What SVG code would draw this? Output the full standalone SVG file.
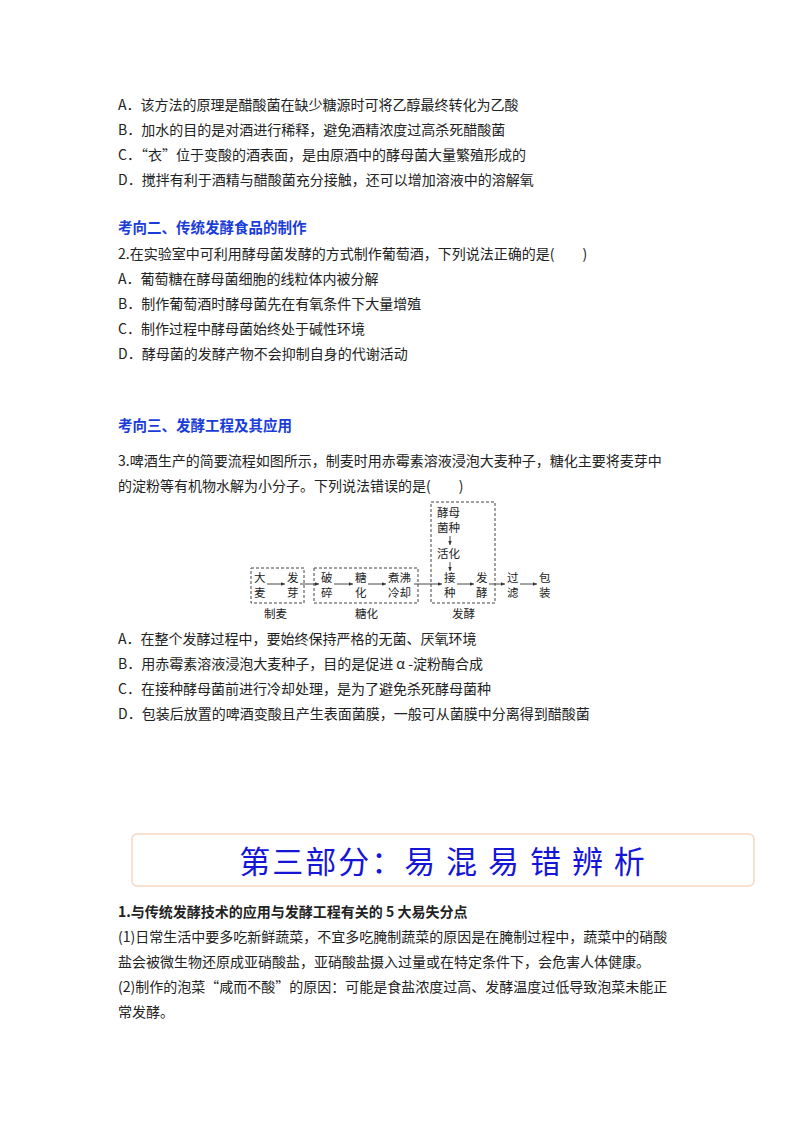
<svg xmlns="http://www.w3.org/2000/svg" width="800" height="1132" viewBox="0 0 800 1132">
<defs>
<style>
text{font-family:"Noto Sans CJK SC","Liberation Serif",serif;fill:#222}
.t{font-size:14px}
.h{font-size:14.5px;font-weight:bold;fill:#1a3cd8}
.d{font-size:11.5px}
.box{fill:none;stroke:#444;stroke-width:1;stroke-dasharray:3,2}
.c{stroke:#333;stroke-width:0.9;fill:none;marker-end:url(#a)}
</style>
<marker id="a" markerWidth="6" markerHeight="6" refX="5" refY="3" orient="auto"><path d="M0,0.8 L5,3 L0,5.2z" fill="#333"/></marker>
</defs>
<rect width="800" height="1132" fill="#fff"/>
<g id="text-top" class="t">
<text x="118" y="110">A．该方法的原理是醋酸菌在缺少糖源时可将乙醇最终转化为乙酸</text>
<text x="118" y="135">B．加水的目的是对酒进行稀释，避免酒精浓度过高杀死醋酸菌</text>
<text x="118" y="160">C．“衣”位于变酸的酒表面，是由原酒中的酵母菌大量繁殖形成的</text>
<text x="118" y="185">D．搅拌有利于酒精与醋酸菌充分接触，还可以增加溶液中的溶解氧</text>
<text x="118" y="233" class="h">考向二、传统发酵食品的制作</text>
<text x="118" y="259">2.在实验室中可利用酵母菌发酵的方式制作葡萄酒，下列说法正确的是(　　)</text>
<text x="118" y="284">A．葡萄糖在酵母菌细胞的线粒体内被分解</text>
<text x="118" y="309">B．制作葡萄酒时酵母菌先在有氧条件下大量增殖</text>
<text x="118" y="334">C．制作过程中酵母菌始终处于碱性环境</text>
<text x="118" y="359">D．酵母菌的发酵产物不会抑制自身的代谢活动</text>
<text x="118" y="431" class="h">考向三、发酵工程及其应用</text>
<text x="118" y="466">3.啤酒生产的简要流程如图所示，制麦时用赤霉素溶液浸泡大麦种子，糖化主要将麦芽中</text>
<text x="118" y="491">的淀粉等有机物水解为小分子。下列说法错误的是(　　)</text>
</g>
<g id="flow">
<rect class="box" x="251" y="568" width="53" height="35"/>
<rect class="box" x="314" y="568" width="104" height="35"/>
<rect class="box" x="431" y="502" width="64" height="101"/>
<g class="d">
<text x="254" y="582">大</text><text x="254" y="597">麦</text>
<text x="287" y="582">发</text><text x="287" y="597">芽</text>
<text x="321" y="582">破</text><text x="321" y="597">碎</text>
<text x="355" y="582">糖</text><text x="355" y="597">化</text>
<text x="388" y="582">煮沸</text><text x="388" y="597">冷却</text>
<text x="444" y="582">接</text><text x="444" y="597">种</text>
<text x="476" y="582">发</text><text x="476" y="597">酵</text>
<text x="507" y="582">过</text><text x="507" y="597">滤</text>
<text x="539" y="582">包</text><text x="539" y="597">装</text>
<text x="437" y="517">酵母</text><text x="437" y="532">菌种</text>
<text x="437" y="558">活化</text>
<text x="264" y="618">制麦</text>
<text x="355" y="618">糖化</text>
<text x="452" y="618">发酵</text>
</g>
</g>
<g id="connectors">
<line class="c" x1="267" y1="584" x2="285" y2="584"/>
<line class="c" x1="300" y1="584" x2="319" y2="584"/>
<line class="c" x1="334" y1="584" x2="353" y2="584"/>
<line class="c" x1="368" y1="584" x2="386" y2="584"/>
<line class="c" x1="414" y1="584" x2="442" y2="584"/>
<line class="c" x1="457" y1="584" x2="474" y2="584"/>
<line class="c" x1="489" y1="584" x2="505" y2="584"/>
<line class="c" x1="520" y1="584" x2="537" y2="584"/>
<line class="c" x1="450" y1="536" x2="450" y2="545"/>
<line class="c" x1="450" y1="562" x2="450" y2="571"/>
</g>
<g id="text-mid" class="t">
<text x="118" y="644">A．在整个发酵过程中，要始终保持严格的无菌、厌氧环境</text>
<text x="118" y="669">B．用赤霉素溶液浸泡大麦种子，目的是促进 α -淀粉酶合成</text>
<text x="118" y="694">C．在接种酵母菌前进行冷却处理，是为了避免杀死酵母菌种</text>
<text x="118" y="719">D．包装后放置的啤酒变酸且产生表面菌膜，一般可从菌膜中分离得到醋酸菌</text>
</g>
<g id="banner">
<rect x="132" y="834" width="622" height="52" rx="5" fill="#fff" stroke="#f6d8c2" stroke-width="1.5"/>
<text x="443" y="873" text-anchor="middle" style="font-family:'Noto Sans CJK SC',sans-serif;font-size:31px;fill:#1515d8" letter-spacing="2">第三部分：易 混 易 错 辨 析</text>
</g>
<g id="text-bottom" class="t">
<text x="118" y="917" style="font-weight:bold">1.与传统发酵技术的应用与发酵工程有关的 5 大易失分点</text>
<text x="118" y="942">(1)日常生活中要多吃新鲜蔬菜，不宜多吃腌制蔬菜的原因是在腌制过程中，蔬菜中的硝酸</text>
<text x="118" y="967">盐会被微生物还原成亚硝酸盐，亚硝酸盐摄入过量或在特定条件下，会危害人体健康。</text>
<text x="118" y="992">(2)制作的泡菜“咸而不酸”的原因：可能是食盐浓度过高、发酵温度过低导致泡菜未能正</text>
<text x="118" y="1017">常发酵。</text>
</g>
</svg>
